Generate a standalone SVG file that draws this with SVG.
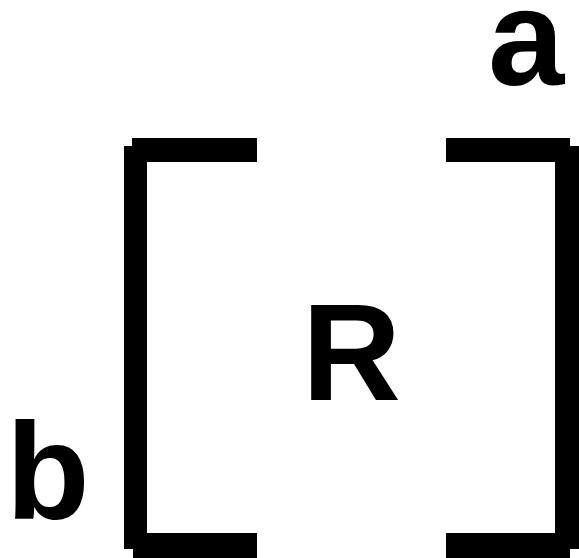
<svg xmlns="http://www.w3.org/2000/svg" width="579" height="558" viewBox="0 0 579 558">
<style>
.t{font-family:"Liberation Sans",Arial,Helvetica,sans-serif;font-weight:bold;font-size:137px;fill:#000}
.b{fill:#000}
</style>
<rect width="579" height="558" fill="#fff"/>
<g id="left-bracket">
<rect class="b" x="124" y="146" width="23" height="403"/>
<rect class="b" x="132" y="138" width="125" height="24"/>
<rect class="b" x="133" y="533" width="124" height="25"/>
</g>
<g id="right-bracket">
<rect class="b" x="555" y="146" width="24" height="403"/>
<rect class="b" x="446" y="138" width="124" height="24"/>
<rect class="b" x="446" y="533" width="124" height="25"/>
</g>
<g id="label-a"><text class="t" x="488" y="85">a</text></g>
<g id="label-b"><text class="t" x="6" y="519">b</text></g>
<g id="label-R"><text class="t" x="302" y="400">R</text></g>
</svg>
